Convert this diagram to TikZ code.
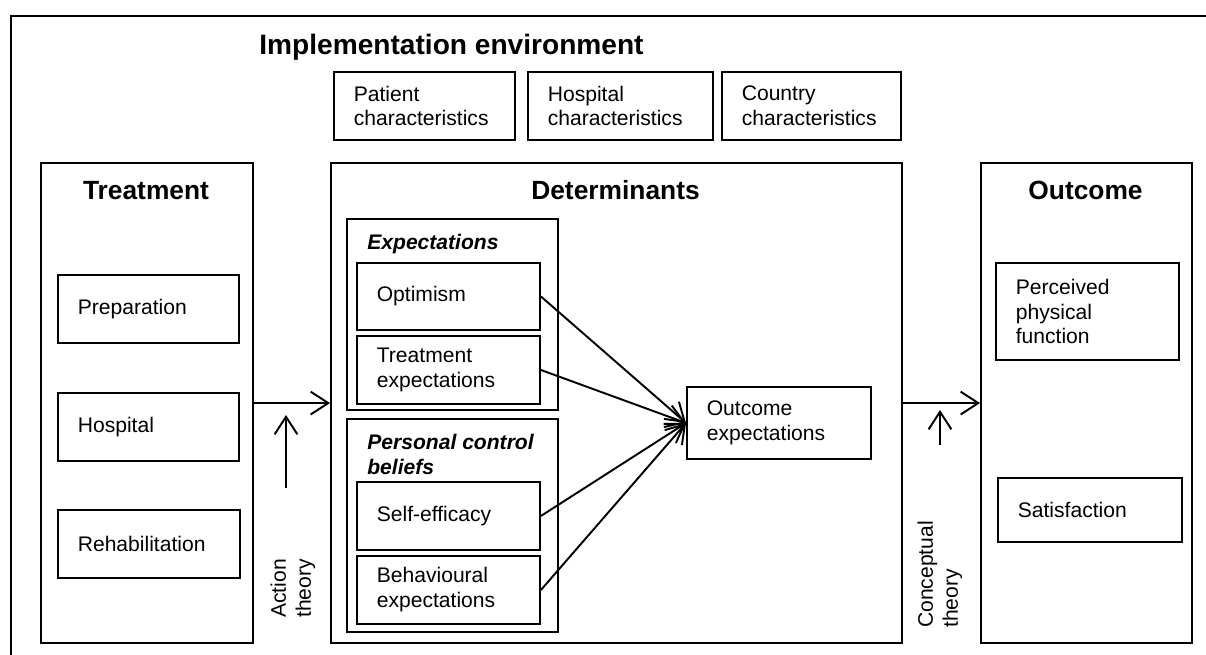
\documentclass[tikz,border=0pt]{standalone}
\usepackage{fontspec}
\setmainfont{Liberation Sans}
\usetikzlibrary{arrows.meta}
\begin{document}
\begin{tikzpicture}[x=0.02cm,y=-0.02cm,
  bx/.style n args={2}{draw, line width=1.1pt, anchor=north west, inner sep=0pt,
    minimum width=#1*0.02cm, minimum height=#2*0.02cm, text width=#1*0.02cm-22.6pt,
    align=left, font=\fontsize{12}{14.2}\selectfont},
  big/.style n args={2}{draw, line width=1.2pt, anchor=north west, inner sep=0pt,
    minimum width=#1*0.02cm, minimum height=#2*0.02cm},
  head/.style={font=\fontsize{15}{18}\selectfont\bfseries, anchor=base, inner sep=0pt},
  grp/.style={font=\fontsize{12}{14.2}\selectfont\bfseries\itshape, align=left, inner sep=0pt},
  arr/.style={line width=1.1pt, -{Straight Barb[length=10pt,width=13pt,line width=1.1pt]}},
  rot/.style={rotate=90, anchor=west, align=left, inner sep=0pt, font=\fontsize{12}{14.2}\selectfont}
]
\useasboundingbox (0,0) rectangle (1206,654);
\clip (0,0) rectangle (1206,654);

% outer frame (right and bottom edges lie outside the picture)
\node[big={1230}{660}, line width=1.3pt] (frame) at (10,15) {};

% implementation environment
\node[font=\fontsize{16}{19}\selectfont\bfseries, anchor=base, inner sep=0pt] (title) at (451.5,54) {Implementation environment};
\node[bx={181}{68}] (pat) at (333,71) {Patient\\characteristics};
\node[bx={185}{68}] (hch) at (527,71) {Hospital\\characteristics};
\node[bx={179}{68}] (cch) at (721,71) {Country\\characteristics};

% main columns
\node[big={212}{480}] (treat) at (40,162) {};
\node[big={571}{480}] (det) at (330,162) {};
\node[big={211}{480}] (outc) at (980,162) {};
\node[head] (treath) at (146,199) {Treatment};
\node[head] (deth) at (615.5,199) {Determinants};
\node[head] (outch) at (1085.5,199) {Outcome};

% treatment
\node[bx={181}{68}] (prep) at (57,274) {Preparation};
\node[bx={181}{68}] (hosp) at (57,392) {Hospital};
\node[bx={182}{68}] (reh) at (57,509) {Rehabilitation};

% determinants
\node[big={211}{191}, line width=0.9pt] (expg) at (346,218) {};
\node[grp, anchor=base west] (expl) at (367,249) {Expectations};
\node[bx={183}{67}] (opt) at (356,262) {Optimism};
\node[bx={183}{68}] (texp) at (356,335) {Treatment\\expectations};
\node[big={211}{213}, line width=0.9pt] (pcg) at (346,418) {};
\node[grp, anchor=north west] (pcl) at (367,433.5) {Personal control\\beliefs};
\node[bx={183}{68}] (seff) at (356,481) {Self-efficacy};
\node[bx={183}{68}] (bexp) at (356,555) {Behavioural\\expectations};
\node[bx={184}{72}] (oexp) at (686,386) {Outcome\\expectations};

% outcome
\node[bx={183}{97}] (ppf) at (995,262) {Perceived\\physical\\function};
\node[bx={184}{64}] (sat) at (997,477) {Satisfaction};

% theory labels
\node[rot] (actl) at (293,618) {Action\\theory};
\node[rot] (conl) at (940,628) {Conceptual\\theory};

% connectors
\draw[arr] (treat.east) -- (det.west);
\draw[arr] (det.east) -- (outc.west);
\draw[arr] (opt.east) -- (oexp.west);
\draw[arr] (texp.east) -- (oexp.west);
\draw[arr] (seff.east) -- (oexp.west);
\draw[arr] (bexp.east) -- (oexp.west);
\coordinate (a1) at (286,488);
\coordinate (a2) at (286,415);
\draw[arr] (a1) -- (a2);
\coordinate (c1) at (940,445);
\coordinate (c2) at (940,410);
\draw[arr] (c1) -- (c2);
\end{tikzpicture}
\end{document}
